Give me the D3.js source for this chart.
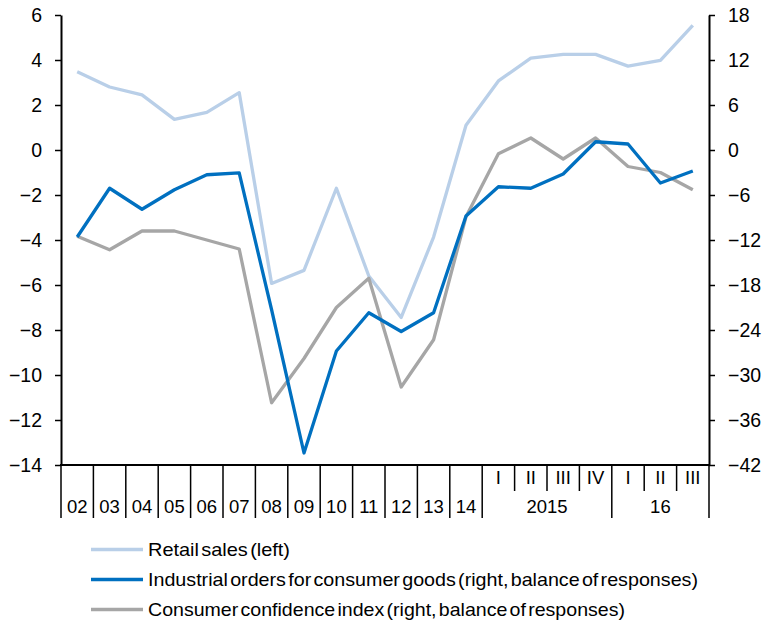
<!DOCTYPE html>
<html>
<head>
<meta charset="utf-8">
<script src="https://cdn.jsdelivr.net/npm/d3@7"></script>
<style>
  html, body { margin: 0; padding: 0; background: #fff; }
  svg { display: block; font-family: "Liberation Sans", Arial, sans-serif; }
</style>
</head>
<body>
<svg id="chart" width="763" height="623"></svg>
<script>
// Periods: annual 2002–2014, then quarterly 2015 Q1 – 2016 Q3
const periods = ["2002","2003","2004","2005","2006","2007","2008","2009","2010","2011","2012","2013","2014",
                 "2015Q1","2015Q2","2015Q3","2015Q4","2016Q1","2016Q2","2016Q3"];
const periodLabels = ["02","03","04","05","06","07","08","09","10","11","12","13","14",
                      "I","II","III","IV","I","II","III"];
const yearGroups = [
  { label: "2015", first: "2015Q1", last: "2015Q4" },
  { label: "16",   first: "2016Q1", last: "2016Q3" }
];

// Retail sales, % (left axis)
const retailSales = [3.48, 2.8, 2.45, 1.36, 1.67, 2.55, -5.93, -5.35, -1.7, -5.6, -7.44, -3.87, 1.1,
                     3.07, 4.08, 4.25, 4.25, 3.73, 3.98, 5.54];
// Industrial orders for consumer goods, balance (right axis)
const industrialOrders = [-11.6, -5.1, -7.9, -5.3, -3.3, -3.05, -21.3, -40.4, -26.8, -21.7, -24.2, -21.7, -8.8,
                          -4.9, -5.1, -3.2, 1.1, 0.8, -4.4, -2.8];
// Consumer confidence index, balance (right axis)
const consumerConfidence = [-11.5, -13.3, -10.8, -10.8, -12.0, -13.2, -33.7, -27.8, -21.0, -17.1, -31.6, -25.3, -8.9,
                            -0.5, 1.6, -1.2, 1.6, -2.2, -3.0, -5.3];

const leftTicks = [6, 4, 2, 0, -2, -4, -6, -8, -10, -12, -14];
const rightTicks = [18, 12, 6, 0, -6, -12, -18, -24, -30, -36, -42];

const seriesNames = [
  "Retail sales (left)",
  "Industrial orders for consumer goods (right, balance of responses)",
  "Consumer confidence index (right, balance of responses)"
];
const seriesColors = ["#b9cfe8", "#0070c0", "#a6a6a6"];
const legendWidths = [142, 550, 477];

const svg = d3.select("#chart");
const plotLeft = 61, plotRight = 709, plotTop = 15, plotBottom = 465;

const x = d3.scaleBand().domain(periods).range([plotLeft, plotRight]).padding(0);
const yL = d3.scaleLinear().domain([-14, 6]).range([plotBottom, plotTop]);
const yR = d3.scaleLinear().domain([-42, 18]).range([plotBottom, plotTop]);

// Left axis
const gL = svg.append("g").attr("transform", `translate(${plotLeft},0)`)
  .call(d3.axisLeft(yL).tickValues(leftTicks).tickSize(6).tickSizeOuter(0).tickPadding(13).tickFormat(d3.format("d")));
// Right axis
const gR = svg.append("g").attr("transform", `translate(${plotRight},0)`)
  .call(d3.axisRight(yR).tickValues(rightTicks).tickSize(6).tickSizeOuter(0).tickPadding(13).tickFormat(d3.format("d")));
[gL, gR].forEach(g => {
  g.select(".domain").attr("stroke", "#000").attr("stroke-width", 2);
  g.selectAll(".tick line").attr("stroke", "#000").attr("stroke-width", 1.5);
  g.selectAll(".tick text").attr("font-size", 19.5).attr("fill", "#000")
    .attr("font-family", "'Liberation Sans', Arial, sans-serif").attr("dy", "0.35em");
});

// Category axis
const gX = svg.append("g");
gX.append("line").attr("x1", plotLeft - 1).attr("x2", plotRight + 1).attr("y1", plotBottom).attr("y2", plotBottom)
  .attr("stroke", "#000").attr("stroke-width", 2);

const groupEdges = new Set(yearGroups.map(g => g.first));
const quarterly = p => p.includes("Q");
periods.forEach((p, i) => {
  const x0 = x(p);
  const long = !quarterly(p) || groupEdges.has(p);
  gX.append("line").attr("x1", x0).attr("x2", x0).attr("y1", plotBottom)
    .attr("y2", long ? 518 : 491).attr("stroke", "#000").attr("stroke-width", 1.5);
  gX.append("text").attr("x", x0 + x.bandwidth() / 2)
    .attr("y", quarterly(p) ? 484 : 512.5)
    .attr("text-anchor", "middle").attr("font-size", 18.5).attr("fill", "#000")
    .text(periodLabels[i]);
});
gX.append("line").attr("x1", plotRight).attr("x2", plotRight).attr("y1", plotBottom).attr("y2", 518)
  .attr("stroke", "#000").attr("stroke-width", 1.5);
yearGroups.forEach(g => {
  const x0 = x(g.first), x1 = x(g.last) + x.bandwidth();
  gX.append("text").attr("x", (x0 + x1) / 2).attr("y", 512.5)
    .attr("text-anchor", "middle").attr("font-size", 18.5).attr("fill", "#000").text(g.label);
});

// Lines
const cx = p => x(p) + x.bandwidth() / 2;
const lineL = d3.line().x((d, i) => cx(periods[i])).y(d => yL(d));
const lineR = d3.line().x((d, i) => cx(periods[i])).y(d => yR(d));

svg.append("path").datum(retailSales).attr("d", lineL)
  .attr("fill", "none").attr("stroke", seriesColors[0]).attr("stroke-width", 3.3).attr("stroke-linejoin", "round");
svg.append("path").datum(consumerConfidence).attr("d", lineR)
  .attr("fill", "none").attr("stroke", seriesColors[2]).attr("stroke-width", 3.3).attr("stroke-linejoin", "round");
svg.append("path").datum(industrialOrders).attr("d", lineR)
  .attr("fill", "none").attr("stroke", seriesColors[1]).attr("stroke-width", 3.3).attr("stroke-linejoin", "round");

// Legend
const legend = svg.append("g");
seriesNames.forEach((name, i) => {
  const yy = 549.5 + i * 30;
  legend.append("line").attr("x1", 91).attr("x2", 143).attr("y1", yy).attr("y2", yy)
    .attr("stroke", seriesColors[i]).attr("stroke-width", 3.3);
  legend.append("text").attr("x", 148).attr("y", yy).attr("dy", "0.36em")
    .attr("font-size", 18.5).attr("fill", "#000").attr("word-spacing", -3)
    .attr("textLength", legendWidths[i]).attr("lengthAdjust", "spacingAndGlyphs")
    .text(name);
});
</script>
</body>
</html>
